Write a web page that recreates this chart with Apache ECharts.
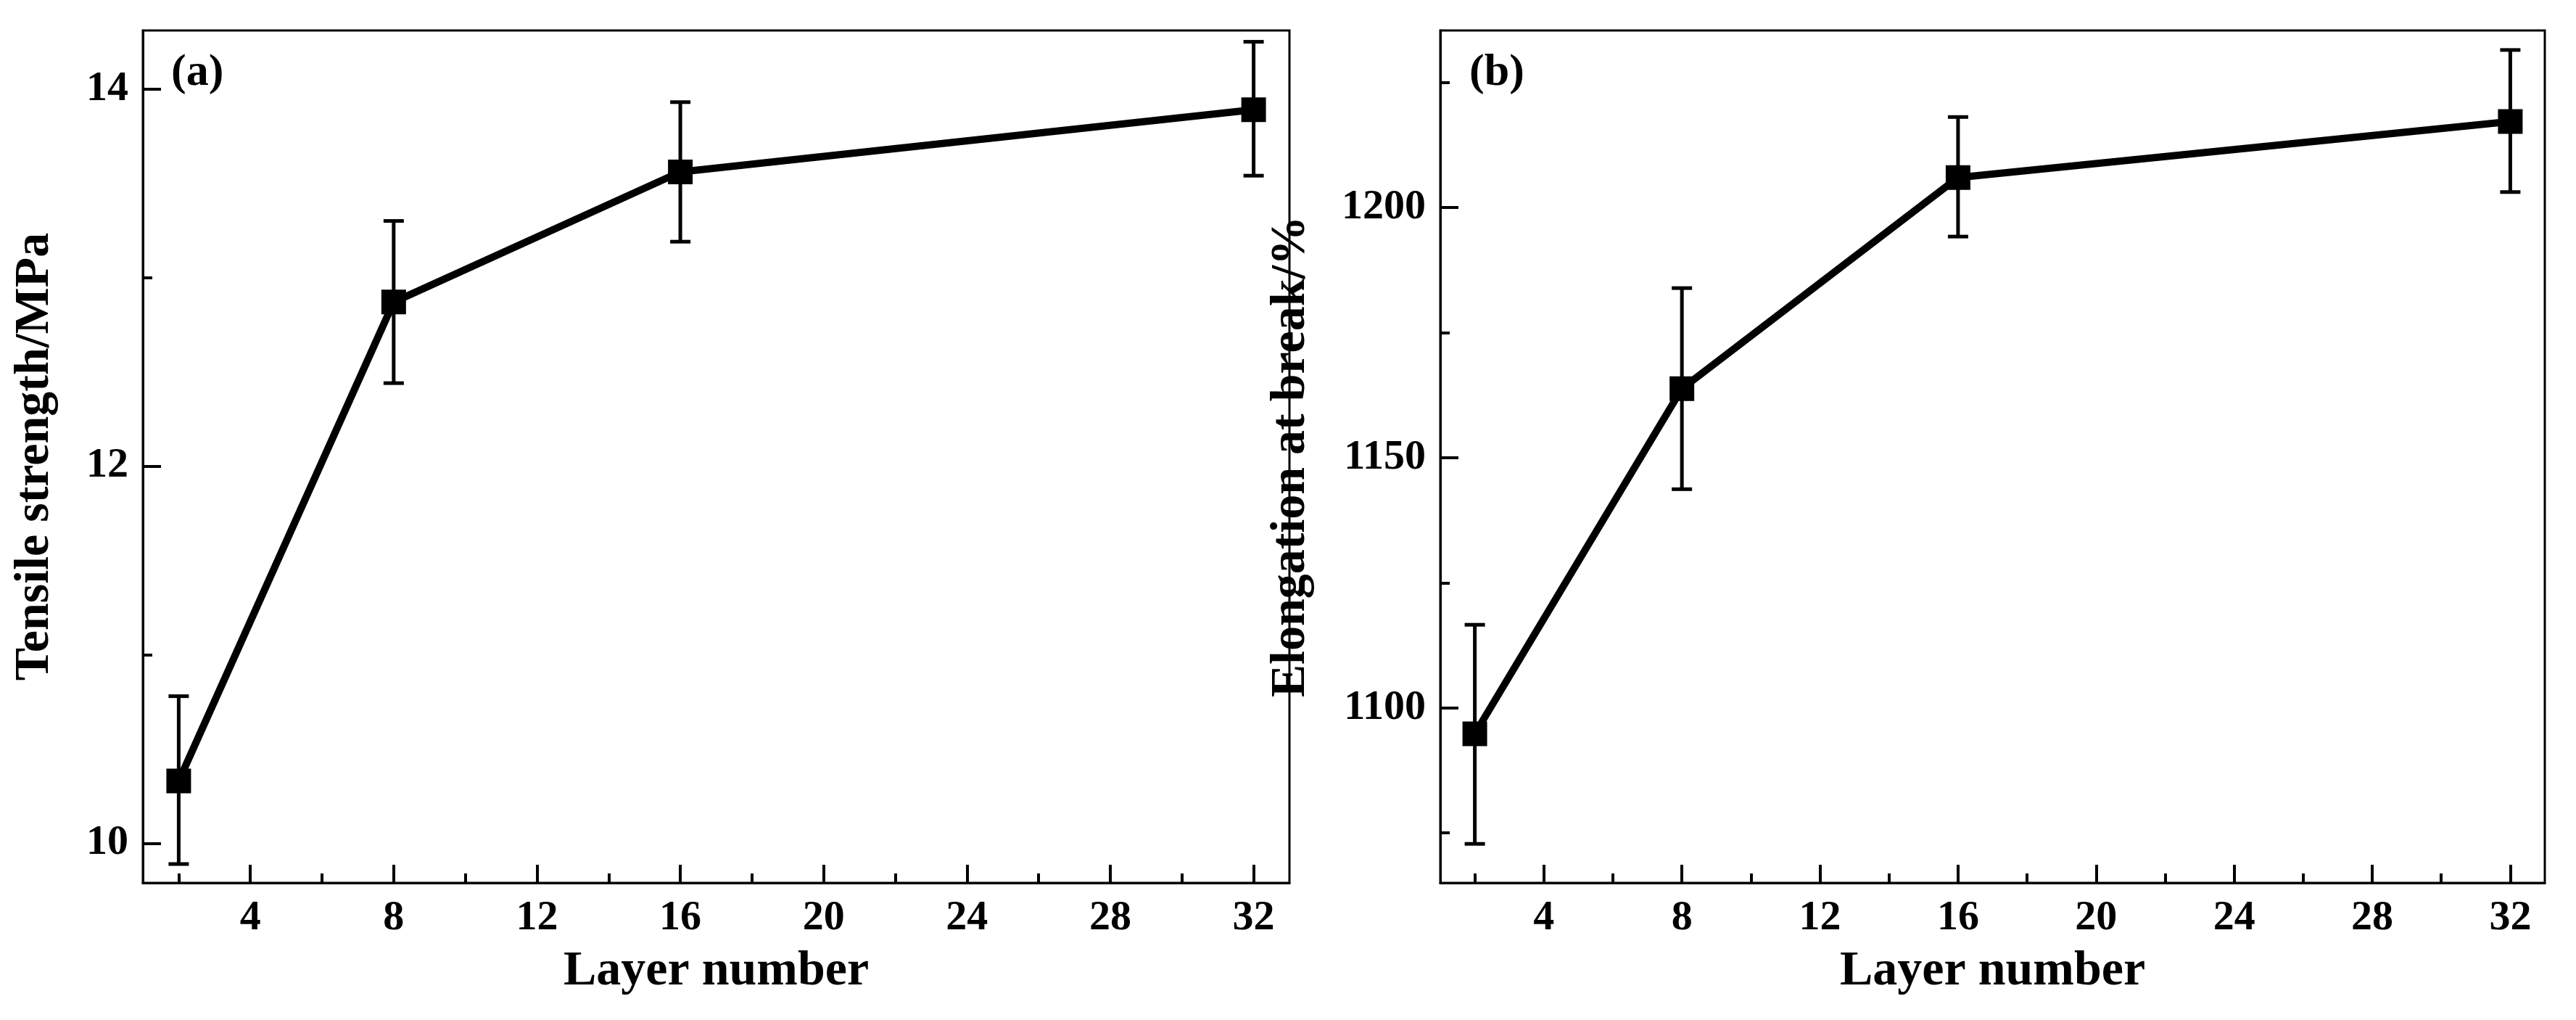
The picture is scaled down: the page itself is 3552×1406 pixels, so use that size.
<!DOCTYPE html>
<html><head><meta charset="utf-8">
<script src="https://cdn.jsdelivr.net/npm/echarts@6/dist/echarts.min.js"></script>
<style>html,body{margin:0;background:#fff}#c{width:3552px;height:1406px}</style>
</head><body><div id="c"></div>
<script>
const layers = [2, 8, 16, 32];
const tensile = [10.33, 12.87, 13.56, 13.89];
const tensileLow = [9.89, 12.44, 13.19, 13.54];
const tensileHigh = [10.78, 13.30, 13.93, 14.25];
const elong = [1094.8, 1163.8, 1206.0, 1217.2];
const elongLow = [1072.8, 1143.7, 1194.2, 1203.1];
const elongHigh = [1116.6, 1183.9, 1218.1, 1231.5];
const xMajor = [4, 8, 12, 16, 20, 24, 28, 32];
const xMinor = [2, 6, 10, 14, 18, 22, 26, 30];
const yMajorA = [10, 12, 14];
const yMinorA = [11, 13];
const yMajorB = [1100, 1150, 1200];
const yMinorB = [1075, 1125, 1175, 1225];

const FONT = '"Liberation Serif", "DejaVu Serif", serif';
const chart = echarts.init(document.getElementById('c'));

function xAxes(gi) {
  return [
    {type:'value', gridIndex:gi, min:1, max:33,
     axisLine:{lineStyle:{color:'#000', width:3}},
     axisTick:{inside:true, length:25, lineStyle:{color:'#000', width:4}, customValues:xMajor},
     axisLabel:{customValues:xMajor, color:'#000', fontFamily:FONT, fontWeight:'bold', fontSize:58, margin:20,
                formatter:v => String(v)},
     splitLine:{show:false},
     name:'Layer number', nameLocation:'middle', nameGap:88,
     nameTextStyle:{color:'#000', fontFamily:FONT, fontWeight:'bold', fontSize:68}},
    {type:'value', gridIndex:gi, min:1, max:33, position:'bottom',
     axisLine:{show:false},
     axisTick:{inside:true, length:13, lineStyle:{color:'#000', width:4}, customValues:xMinor},
     axisLabel:{show:false}, splitLine:{show:false}}
  ];
}
function yAxes(gi, min, max, major, minor, name, gap) {
  return [
    {type:'value', gridIndex:gi, min:min, max:max,
     axisLine:{show:true, lineStyle:{color:'#000', width:3}},
     axisTick:{inside:true, length:25, lineStyle:{color:'#000', width:4}, customValues:major},
     axisLabel:{customValues:major, color:'#000', fontFamily:FONT, fontWeight:'bold', fontSize:58, margin:20,
                formatter:v => String(v)},
     splitLine:{show:false},
     name:name, nameLocation:'middle', nameGap:gap, nameRotate:90,
     nameTextStyle:{color:'#000', fontFamily:FONT, fontWeight:'bold', fontSize:68}},
    {type:'value', gridIndex:gi, min:min, max:max, position:'left',
     axisLine:{show:false},
     axisTick:{inside:true, length:13, lineStyle:{color:'#000', width:4}, customValues:minor},
     axisLabel:{show:false}, splitLine:{show:false}}
  ];
}
function errSeries(xi, yi, lows, highs) {
  return {
    type:'custom', xAxisIndex:xi, yAxisIndex:yi,
    data: layers.map((x, i) => [x, lows[i], highs[i]]),
    renderItem: function (params, api) {
      const lo = api.coord([api.value(0), api.value(1)]);
      const hi = api.coord([api.value(0), api.value(2)]);
      const hw = 14;
      const st = {stroke:'#000', lineWidth:5};
      return {type:'group', children:[
        {type:'line', shape:{x1:lo[0], y1:lo[1], x2:hi[0], y2:hi[1]}, style:st},
        {type:'line', shape:{x1:lo[0]-hw, y1:lo[1], x2:lo[0]+hw, y2:lo[1]}, style:st},
        {type:'line', shape:{x1:hi[0]-hw, y1:hi[1], x2:hi[0]+hw, y2:hi[1]}, style:st}
      ]};
    }, z:2
  };
}
function lineSeries(xi, yi, vals) {
  return {type:'line', xAxisIndex:xi, yAxisIndex:yi,
    data: layers.map((x, i) => [x, vals[i]]),
    symbol:'rect', symbolSize:34, showAllSymbol:true,
    lineStyle:{color:'#000', width:10}, itemStyle:{color:'#000'}, z:3};
}

chart.setOption({
  animation:false,
  backgroundColor:'#fff',
  grid:[
    {left:197, top:42, width:1581, height:1175, show:true, borderColor:'#000', borderWidth:3},
    {left:1986, top:42, width:1523, height:1175, show:true, borderColor:'#000', borderWidth:3}
  ],
  xAxis: [...xAxes(0), ...xAxes(1)],
  yAxis: [...yAxes(0, 9.79, 14.31, yMajorA, yMinorA, 'Tensile strength/MPa', 115),
          ...yAxes(1, 1065, 1235.4, yMajorB, yMinorB, 'Elongation at break/%', 172)],
  graphic:[
    {type:'text', left:236, top:70, style:{text:'(a)', font:'bold 62px ' + FONT, fill:'#000'}},
    {type:'text', left:2026, top:70, style:{text:'(b)', font:'bold 62px ' + FONT, fill:'#000'}}
  ],
  series:[
    errSeries(0, 0, tensileLow, tensileHigh),
    lineSeries(0, 0, tensile),
    errSeries(2, 2, elongLow, elongHigh),
    lineSeries(2, 2, elong)
  ]
});
</script></body></html>
